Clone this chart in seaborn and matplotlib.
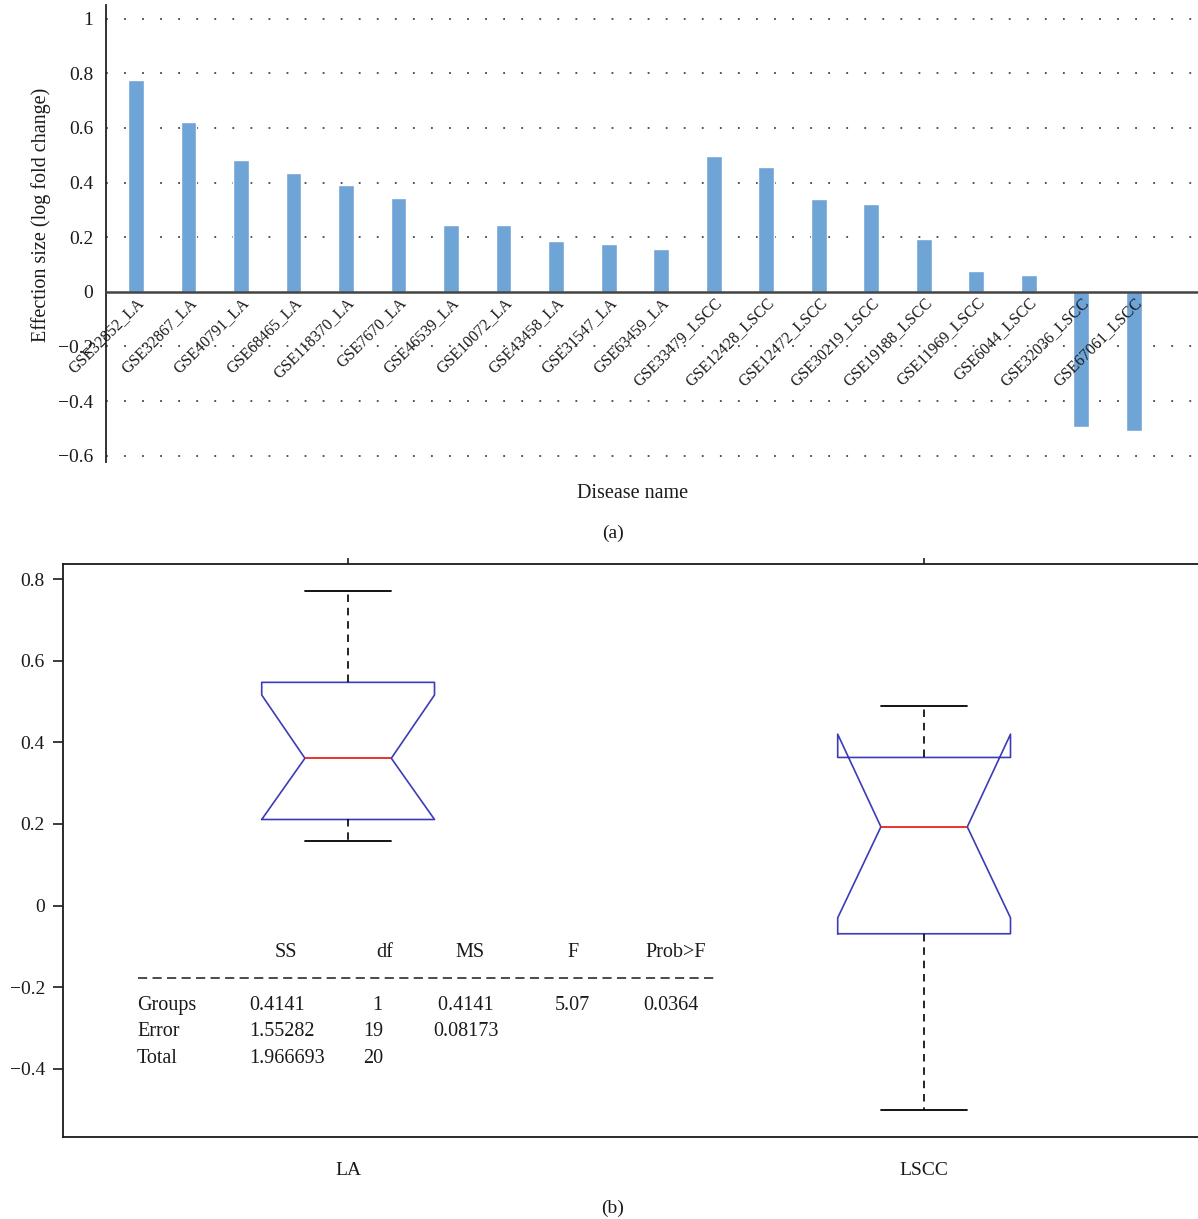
import numpy as np
import pandas as pd
import matplotlib
matplotlib.use("Agg")
import matplotlib.pyplot as plt
import seaborn as sns

# ---- data ----
datasets = ["GSE32852_LA", "GSE32867_LA", "GSE40791_LA", "GSE68465_LA", "GSE118370_LA",
            "GSE7670_LA", "GSE46539_LA", "GSE10072_LA", "GSE43458_LA", "GSE31547_LA",
            "GSE63459_LA", "GSE33479_LSCC", "GSE12428_LSCC", "GSE12472_LSCC",
            "GSE30219_LSCC", "GSE19188_LSCC", "GSE11969_LSCC", "GSE6044_LSCC",
            "GSE32036_LSCC", "GSE67061_LSCC"]
effect_size = [0.776, 0.623, 0.483, 0.436, 0.392, 0.344, 0.245, 0.245, 0.187, 0.176,
               0.158, 0.498, 0.458, 0.340, 0.322, 0.194, 0.077, 0.062, -0.494, -0.509]
y_ticks_a = [-0.6, -0.4, -0.2, 0, 0.2, 0.4, 0.6, 0.8, 1]

box_groups = ["LA", "LSCC"]
box_med = [0.361, 0.193]
box_q1 = [0.211, -0.069]
box_q3 = [0.547, 0.363]
box_whislo = [0.159, -0.500]
box_whishi = [0.771, 0.490]
box_cilo = [0.211, -0.030]
box_cihi = [0.516, 0.420]
y_ticks_b = [-0.4, -0.2, 0, 0.2, 0.4, 0.6, 0.8]

anova_header = ["SS", "df", "MS", "F", "Prob>F"]
anova_rows = [
    ["Groups", "0.4141", "  1", " 0.4141", "5.07", "0.0364"],
    ["Error", "1.55282", "19", "0.08173", "", ""],
    ["Total", "1.966693", "20", "", "", ""],
]

sns.set_theme(style="white")
plt.rcParams["font.family"] = ["Liberation Serif", "DejaVu Serif"]
plt.rcParams["axes.unicode_minus"] = True

fig = plt.figure(figsize=(11.98, 12.19), dpi=100)

# ---- (a) bar chart ----
ax1 = fig.add_axes([106 / 1198, 1 - 462 / 1219, (1200 - 106) / 1198, 457 / 1219])
df = pd.DataFrame({"dataset": datasets, "effect": effect_size})
sns.barplot(data=df, x="dataset", y="effect", color="#6fa4d6", saturation=1,
            width=0.3, ax=ax1, zorder=2)
ax1.set_xlim(-0.571, 20.26)
ax1.set_ylim(-0.623, 1.05)
ax1.set_yticks(y_ticks_a)
ax1.set_yticklabels(["\u22120.6", "\u22120.4", "\u22120.2", "0", "0.2", "0.4", "0.6", "0.8", "1"])
for yv in y_ticks_a:
    if yv != 0:
        ax1.axhline(yv, color="#444444", lw=1.3, linestyle=(0, (1, 9)), zorder=1)
for s in ["top", "right"]:
    ax1.spines[s].set_visible(False)
ax1.spines["left"].set_color("#222222")
ax1.spines["left"].set_linewidth(1.3)
ax1.spines["bottom"].set_position(("data", 0))
ax1.spines["bottom"].set_color("#444444")
ax1.spines["bottom"].set_linewidth(1.8)
ax1.set_axisbelow(False)
ax1.tick_params(axis="y", length=0, pad=9, labelsize=14, labelcolor="#1a1a1a")
ax1.tick_params(axis="x", length=0, pad=2, labelsize=11.5, labelcolor="#1a1a1a")
ax1.set_xticks(range(len(datasets)))
ax1.set_xticklabels(datasets, rotation=45, ha="right", va="top",
                    rotation_mode="anchor")
ax1.set_xlabel("")
ax1.set_ylabel("Effection size (log fold change)", fontsize=14.5, color="#1a1a1a",
               labelpad=5)
ax1.yaxis.label.set_y(0.54)
fig.text(633 / 1198, 1 - 494 / 1219, "Disease name", ha="center", va="center",
         fontsize=14.5, color="#1a1a1a")
fig.text(613 / 1198, 1 - 533 / 1219, "(a)", ha="center", va="center",
         fontsize=14, color="#1a1a1a")

# ---- (b) notched box plot with ANOVA table ----
ax2 = fig.add_axes([63 / 1198, 1 - 1137 / 1219, (1200 - 63) / 1198, 573 / 1219])
stats = []
for i, g in enumerate(box_groups):
    stats.append({"label": g, "med": box_med[i], "q1": box_q1[i], "q3": box_q3[i],
                  "whislo": box_whislo[i], "whishi": box_whishi[i],
                  "cilo": box_cilo[i], "cihi": box_cihi[i], "fliers": []})
ax2.bxp(stats, positions=[1, 2], widths=0.3, shownotches=True, showfliers=False,
        capwidths=0.15,
        boxprops=dict(color="#3c3cb6", lw=1.2),
        medianprops=dict(color="#e8241c", lw=1.3),
        whiskerprops=dict(color="black", lw=1.2, linestyle=(0, (4.5, 3.5))),
        capprops=dict(color="black", lw=1.3))
ax2.set_xlim(0.505, 2.479)
ax2.set_ylim(-0.567, 0.837)
ax2.set_yticks(y_ticks_b)
ax2.set_yticklabels(["\u22120.4", "\u22120.2", "0", "0.2", "0.4", "0.6", "0.8"])
ax2.set_xticks([1, 2])
ax2.set_xticklabels(box_groups)
ax2.tick_params(axis="y", direction="out", length=7, width=1.2, pad=6, labelsize=14,
                left=True, colors="#1a1a1a")
ax2.tick_params(axis="x", length=0, pad=14, labelsize=14, labelcolor="#1a1a1a")
ax2.tick_params(axis="x", which="major", top=True, direction="out", length=4)
ax2.tick_params(axis="x", bottom=False)
for s in ax2.spines.values():
    s.set_color("#1a1a1a")
    s.set_linewidth(1.3)
ax2.grid(False)

# ANOVA table text
def px_x(px):
    return 0.505 + (px - 63) / 576.0


def px_y(py):
    return 0.2 - (py - 824) / 408.3


header_x = [286, 385, 470, 573, 676]
col_x = [137, 249, 363, 433, 555, 643]
row_y = [1006, 1032, 1059]
for h, hx in zip(anova_header, header_x):
    ax2.text(px_x(hx), px_y(953), h, ha="center", va="center", fontsize=14.5,
             color="#1a1a1a")
ax2.plot([px_x(138), px_x(715)], [px_y(978), px_y(978)], color="#1a1a1a", lw=1.1,
         linestyle=(0, (6, 3.5)))
for r, ry in zip(anova_rows, row_y):
    for cell, cx in zip(r, col_x):
        ax2.text(px_x(cx), px_y(ry), cell, ha="left", va="center", fontsize=14.5,
                 color="#1a1a1a")

fig.text(613 / 1198, 1 - 1208 / 1219, "(b)", ha="center", va="center",
         fontsize=14, color="#1a1a1a")

fig.savefig("out.png", dpi=100)
